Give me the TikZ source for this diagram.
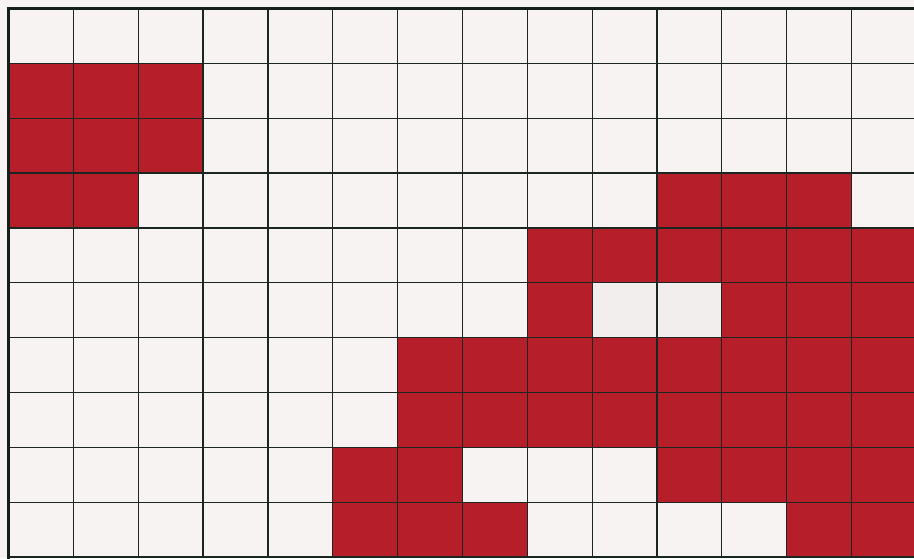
\documentclass[tikz,border=0pt]{standalone}
\definecolor{cellred}{RGB}{182,30,42}
\definecolor{paper}{RGB}{247,243,243}
\definecolor{gridline}{RGB}{28,38,32}
\begin{document}
\begin{tikzpicture}[x=1pt,y=-1pt,
  gridrule/.style={draw=gridline,line width=1.2pt},
  borderrule/.style={draw=gridline!80!black,line width=3pt,line cap=rect}]
\fill[paper] (0,0) rectangle (914,558);
\useasboundingbox (0,0) rectangle (914,558);
\def\cw{64.85}
\def\rh{54.85}
\def\ox{8.5}
\def\oy{8.5}
\foreach \c/\r in {0/1,1/1,2/1,
                   0/2,1/2,2/2,
                   0/3,1/3,10/3,11/3,12/3,
                   8/4,9/4,10/4,11/4,12/4,13/4,
                   8/5,11/5,12/5,13/5,
                   6/6,7/6,8/6,9/6,10/6,11/6,12/6,13/6,
                   6/7,7/7,8/7,9/7,10/7,11/7,12/7,13/7,
                   5/8,6/8,10/8,11/8,12/8,13/8,
                   5/9,6/9,7/9,12/9,13/9}
  \fill[cellred] ({\ox+\c*\cw},{\oy+\r*\rh}) rectangle ++(\cw,\rh);
\fill[paper!96!gray] ({\ox+9*\cw},{\oy+5*\rh}) rectangle ++({2*\cw},\rh);
\foreach \k in {1,...,13}
  \draw[gridrule] ({\ox+\k*\cw},\oy) -- ({\ox+\k*\cw},{\oy+10*\rh});
\foreach \r in {1,...,9}
  \draw[gridrule] (\ox,{\oy+\r*\rh}) -- (914,{\oy+\r*\rh});
\draw[gridrule] (\ox,{\oy+10*\rh}) -- (914,{\oy+10*\rh});
\draw[borderrule] (914,\oy) -- (\ox,\oy) -- (\ox,558);
\end{tikzpicture}
\end{document}
